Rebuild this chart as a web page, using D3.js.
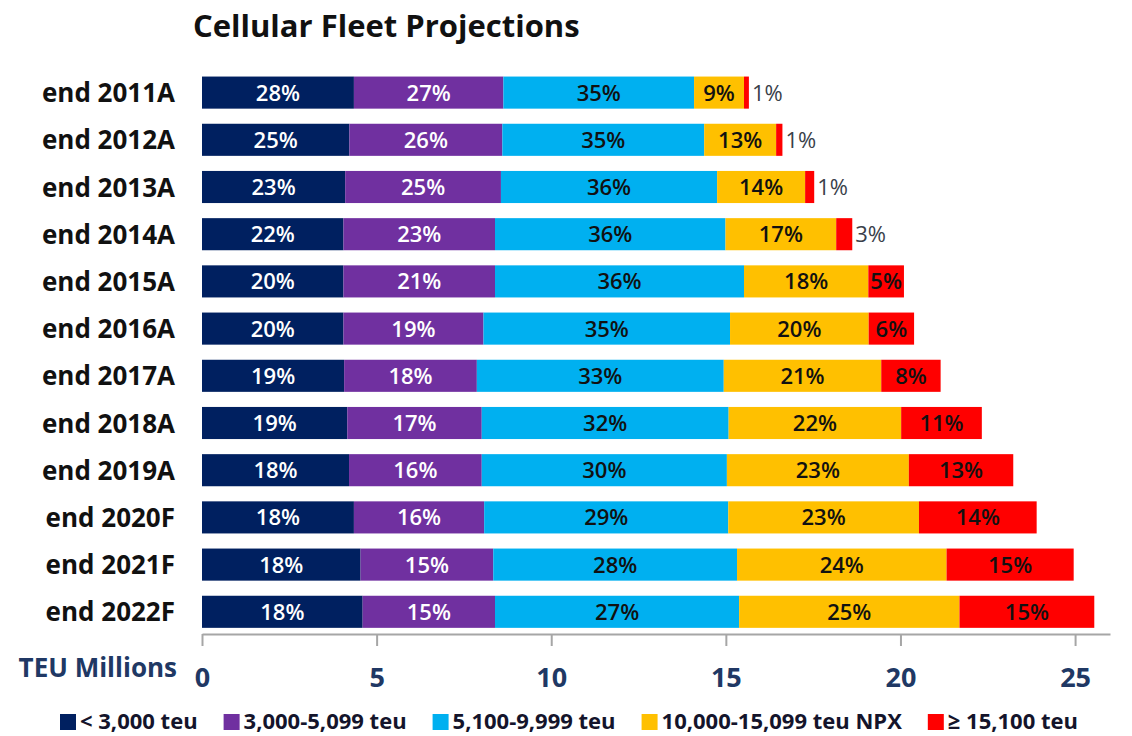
<!DOCTYPE html>
<meta charset="utf-8">
<style>
    body {
        margin: 0;
        background: #fff;
    }

    svg {
        display: block;
    }

    text {
        font-family: "Open Sans", "DejaVu Sans", sans-serif;
    }

    .title {
        font-size: 31px;
        font-weight: bold;
        fill: #111;
    }

    .catLabel {
        font-size: 26px;
        font-weight: bold;
        fill: #111;
    }

    .barLabel {
        font-size: 22px;
        font-weight: 600;
    }

    .axis path,
    .axis line {
        stroke: #a6a6a6;
        stroke-width: 2px;
    }

    .axis text {
        font-size: 27px;
        font-weight: bold;
        fill: #203864;
    }

    .axisTitle {
        font-size: 26px;
        font-weight: bold;
        fill: #203864;
    }

    .legend text {
        font-size: 22px;
        font-weight: bold;
        fill: #14142b;
    }
</style>

<body>
    <script src="https://d3js.org/d3.v7.min.js"></script>
    <script>

        // years on the y axis
        var years = ["end 2011A", "end 2012A", "end 2013A", "end 2014A", "end 2015A", "end 2016A",
            "end 2017A", "end 2018A", "end 2019A", "end 2020F", "end 2021F", "end 2022F"];

        // fleet size per size class, TEU millions
        var lt3000 = [4.35, 4.22, 4.10, 4.05, 4.05, 4.05, 4.07, 4.16, 4.21, 4.35, 4.54, 4.60];
        var c3000 = [4.28, 4.38, 4.46, 4.34, 4.34, 4.01, 3.80, 3.85, 3.80, 3.73, 3.80, 3.79];
        var c5100 = [5.46, 5.78, 6.19, 6.60, 7.13, 7.06, 7.07, 7.07, 7.02, 6.99, 6.98, 6.99];
        var c10000 = [1.43, 2.06, 2.52, 3.17, 3.56, 3.97, 4.51, 4.94, 5.21, 5.46, 6.00, 6.31];
        var ge15100 = [0.14, 0.18, 0.26, 0.46, 1.02, 1.30, 1.70, 2.31, 2.99, 3.37, 3.64, 3.86];

        // share labels printed on the bars
        var pctLt3000 = [28, 25, 23, 22, 20, 20, 19, 19, 18, 18, 18, 18];
        var pct3000 = [27, 26, 25, 23, 21, 19, 18, 17, 16, 16, 15, 15];
        var pct5100 = [35, 35, 36, 36, 36, 35, 33, 32, 30, 29, 28, 27];
        var pct10000 = [9, 13, 14, 17, 18, 20, 21, 22, 23, 23, 24, 25];
        var pct15100 = [1, 1, 1, 3, 5, 6, 8, 11, 13, 14, 15, 15];

        var seriesNames = ["< 3,000 teu", "3,000-5,099 teu", "5,100-9,999 teu", "10,000-15,099 teu NPX", "≥ 15,100 teu"];
        var seriesValues = [lt3000, c3000, c5100, c10000, ge15100];
        var seriesPct = [pctLt3000, pct3000, pct5100, pct10000, pct15100];
        var colors = ["#002060", "#7030a0", "#00b0f0", "#ffc000", "#ff0000"];
        var labelColors = ["#fff", "#fff", "#111", "#111", "#111"];

        var tickValues = [0, 5, 10, 15, 20, 25];

        var width = 1132,
            height = 736;

        var svg = d3.select("body")
            .append("svg")
            .attr("width", width)
            .attr("height", height);

        var rows = years.map(function (y, i) {
            var r = { year: y };
            seriesNames.forEach(function (s, j) { r[s] = seriesValues[j][i]; });
            return r;
        });

        var stack = d3.stack().keys(seriesNames);
        var layers = stack(rows);

        var x = d3.scaleLinear()
            .domain([0, 26])
            .range([202, 1110]);

        var y = d3.scaleBand()
            .domain(years)
            .range([69, 635.4])
            .paddingInner(0.32)
            .paddingOuter(0.16);

        /* ------- TITLE -------*/

        svg.append("text")
            .attr("class", "title")
            .attr("x", 193)
            .attr("y", 37)
            .text("Cellular Fleet Projections");

        /* ------- BARS -------*/

        var layer = svg.append("g").selectAll("g")
            .data(layers)
            .enter().append("g")
            .attr("fill", function (d, i) { return colors[i]; });

        layer.selectAll("rect")
            .data(function (d) { return d; })
            .enter().append("rect")
            .attr("x", function (d) { return x(d[0]); })
            .attr("y", function (d) { return y(d.data.year); })
            .attr("width", function (d) { return x(d[1]) - x(d[0]); })
            .attr("height", y.bandwidth());

        /* ------- BAR LABELS -------*/

        layer.each(function (L, si) {
            d3.select(this).selectAll("text")
                .data(L)
                .enter().append("text")
                .attr("class", "barLabel")
                .attr("dy", "0.36em")
                .attr("y", function (d) { return y(d.data.year) + y.bandwidth() / 2; })
                .each(function (d, i) {
                    var w = x(d[1]) - x(d[0]);
                    var t = d3.select(this).text(seriesPct[si][i] + "%");
                    if (w < 22) {
                        t.attr("x", x(d[1]) + 3)
                            .attr("text-anchor", "start")
                            .style("font-weight", "normal")
                            .style("fill", "#3a3f4a");
                    } else {
                        t.attr("x", (x(d[0]) + x(d[1])) / 2)
                            .attr("text-anchor", "middle")
                            .style("fill", labelColors[si]);
                    }
                });
        });

        /* ------- CATEGORY LABELS -------*/

        svg.append("g").selectAll("text")
            .data(years)
            .enter().append("text")
            .attr("class", "catLabel")
            .attr("x", 175)
            .attr("y", function (d) { return y(d) + y.bandwidth() / 2; })
            .attr("dy", "0.37em")
            .attr("text-anchor", "end")
            .text(function (d) { return d; });

        /* ------- X AXIS -------*/

        svg.append("g")
            .attr("class", "axis")
            .attr("transform", "translate(0,634)")
            .call(d3.axisBottom(x)
                .tickValues(tickValues)
                .tickSize(12)
                .tickSizeOuter(0)
                .tickPadding(22))
            .attr("font-family", null)
            .attr("font-size", null);

        svg.append("text")
            .attr("class", "axisTitle")
            .attr("x", 177)
            .attr("y", 677)
            .attr("text-anchor", "end")
            .text("TEU Millions");

        /* ------- LEGEND -------*/

        var legend = svg.append("g").attr("class", "legend");
        var lx = 60;
        seriesNames.forEach(function (s, i) {
            legend.append("rect")
                .attr("x", lx)
                .attr("y", 714)
                .attr("width", 16)
                .attr("height", 16)
                .attr("fill", colors[i]);
            var t = legend.append("text")
                .attr("x", lx + 20)
                .attr("y", 729)
                .text(s);
            lx += 20 + t.node().getComputedTextLength() + 26;
        });

    </script>
</body>
